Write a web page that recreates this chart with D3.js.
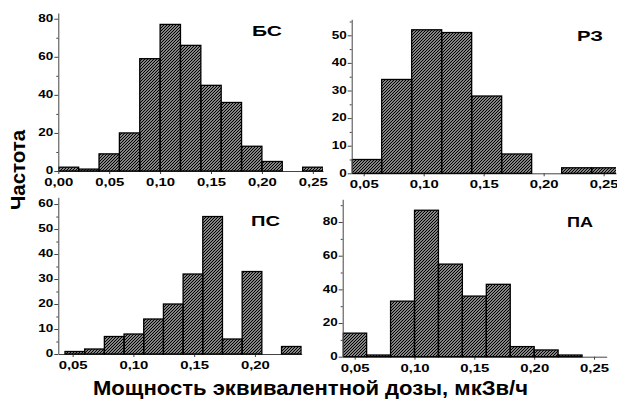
<!DOCTYPE html>
<html>
<head>
<meta charset="utf-8">
<script src="https://cdn.jsdelivr.net/npm/d3@7"></script>
<style>
  body { margin: 0; background: #fff; }
  svg { display: block; font-family: "Liberation Sans", Arial, sans-serif; font-weight: bold; }
</style>
</head>
<body>
<svg id="chart" width="617" height="399"></svg>
<script>
// histogram counts per bin
const bsCounts = [2, 1, 9, 20, 59, 77, 66, 45, 36, 13, 5, 0, 2];
const rzCounts = [5, 34, 52, 51, 28, 7, 0, 2, 2];
const psCounts = [1, 2, 7, 8, 14, 20, 32, 55, 6, 33, 0, 3];
const paCounts = [14, 1, 33, 87, 55, 36, 43, 6, 4, 1];

// bin start and bin width (мкЗв/ч)
const bsBins = [0.00, 0.02];
const rzBins = [0.04, 0.025];
const psBins = [0.0437, 0.0162];
const paBins = [0.04, 0.02];

const bsXTicks = [0, 0.05, 0.10, 0.15, 0.20, 0.25];
const otherXTicks = [0.05, 0.10, 0.15, 0.20, 0.25];
const psXTicks = [0.05, 0.10, 0.15, 0.20];
const bsYTicks = [0, 20, 40, 60, 80];
const rzYTicks = [0, 10, 20, 30, 40, 50];
const psYTicks = [0, 10, 20, 30, 40, 50, 60];
const paYTicks = [0, 20, 40, 60, 80];

const panelNames = ["БС", "РЗ", "ПС", "ПА"];
const yTitle = "Частота";
const xTitle = "Мощность эквивалентной дозы, мкЗв/ч";

const svg = d3.select("#chart");

// hatch fill
const defs = svg.append("defs");
defs.append("pattern")
  .attr("id", "hatch")
  .attr("patternUnits", "userSpaceOnUse")
  .attr("width", 3).attr("height", 3)
  .append("path")
  .attr("d", "M-1,1 l2,-2 M0,3 l3,-3 M2,4 l2,-2")
  .attr("stroke", "#000")
  .attr("stroke-width", 1.4);

const panels = [
  { name: panelNames[0], counts: bsCounts, bins: bsBins, xDomain: [0, 0.26], yMax: 83,
    xRange: [58.3, 323], yRange: [171, 13], xTicks: bsXTicks, yTicks: bsYTicks, yStep: 10,
    title: [282, 36, 30] },
  { name: panelNames[1], counts: rzCounts, bins: rzBins, xDomain: [0.04, 0.2603], yMax: 55.8,
    xRange: [351.7, 616], yRange: [173.3, 19.3], xTicks: otherXTicks, yTicks: rzYTicks, yStep: 5,
    title: [603, 41, 26] },
  { name: panelNames[2], counts: psCounts, bins: psBins, xDomain: [0.0382, 0.2385], yMax: 62.7,
    xRange: [58.3, 301.7], yRange: [354, 197.3], xTicks: psXTicks, yTicks: psYTicks, yStep: 5,
    title: [280, 226, 29] },
  { name: panelNames[3], counts: paCounts, bins: paBins, xDomain: [0.04, 0.2606], yMax: 93.5,
    xRange: [342.7, 606.7], yRange: [356.7, 199.3], xTicks: otherXTicks, yTicks: paYTicks, yStep: 10,
    title: [593, 227, 26] }
];

const fmt = d => d3.format(".2f")(d).replace(".", ",");

panels.forEach(p => {
  const x = d3.scaleLinear().domain(p.xDomain).range(p.xRange);
  const y = d3.scaleLinear().domain([0, p.yMax]).range(p.yRange);
  const g = svg.append("g");

  const clipId = "clip-" + p.name;
  defs.append("clipPath").attr("id", clipId)
    .append("rect")
    .attr("x", p.xRange[0]).attr("y", p.yRange[1] - 2)
    .attr("width", p.xRange[1] - p.xRange[0]).attr("height", p.yRange[0] - p.yRange[1] + 4);

  // x axis
  const xAxis = g.append("g")
    .attr("transform", "translate(0," + p.yRange[0] + ")")
    .call(d3.axisBottom(x).tickValues(p.xTicks).tickFormat(fmt).tickSize(3).tickSizeOuter(0));
  xAxis.select(".domain").attr("stroke", "#444");
  xAxis.selectAll(".tick line").attr("stroke", "#444");
  xAxis.selectAll("text")
    .attr("y", 7).attr("dy", "0.71em")
    .attr("fill", "#000")
    .attr("font-size", 11.5)
    .attr("textLength", 29)
    .attr("lengthAdjust", "spacingAndGlyphs");

  // bars
  g.append("g").attr("clip-path", "url(#" + clipId + ")")
    .selectAll("rect")
    .data(p.counts.map((c, i) => ({ c, x0: p.bins[0] + i * p.bins[1], x1: p.bins[0] + (i + 1) * p.bins[1] }))
      .filter(d => d.c > 0))
    .enter()
    .append("rect")
    .attr("x", d => x(d.x0))
    .attr("y", d => y(d.c))
    .attr("width", d => x(d.x1) - x(d.x0))
    .attr("height", d => y(0) - y(d.c))
    .attr("fill", "url(#hatch)")
    .attr("stroke", "#000")
    .attr("stroke-width", 1.3);

  // y axis with minor ticks
  const minor = d3.range(0, p.yMax, p.yStep).filter(v => !p.yTicks.includes(v));
  g.append("g")
    .attr("transform", "translate(" + p.xRange[0] + ",0)")
    .call(d3.axisLeft(y).tickValues(minor).tickFormat("").tickSize(2).tickSizeOuter(0))
    .call(s => s.select(".domain").remove())
    .selectAll("line").attr("stroke", "#444");
  const yAxis = g.append("g")
    .attr("transform", "translate(" + p.xRange[0] + ",0)")
    .call(d3.axisLeft(y).tickValues(p.yTicks).tickSize(4).tickSizeOuter(0));
  yAxis.select(".domain").attr("stroke", "#444");
  yAxis.selectAll(".tick line").attr("stroke", "#444");
  yAxis.selectAll("text")
    .attr("x", -5)
    .attr("dy", "0.25em")
    .attr("fill", "#000")
    .attr("font-size", 11.5)
    .attr("textLength", d => 7.5 * String(d).length)
    .attr("lengthAdjust", "spacingAndGlyphs");

  // panel label
  g.append("text")
    .attr("x", p.title[0] - p.title[2]).attr("y", p.title[1])
    .attr("font-size", 15.5)
    .attr("textLength", p.title[2])
    .attr("lengthAdjust", "spacingAndGlyphs")
    .text(p.name);
});

svg.append("text")
  .attr("transform", "translate(25,170) rotate(-90)")
  .attr("text-anchor", "middle")
  .attr("font-size", 20)
  .attr("textLength", 80)
  .attr("lengthAdjust", "spacingAndGlyphs")
  .text(yTitle);

svg.append("text")
  .attr("x", 93).attr("y", 395)
  .attr("font-size", 19.5)
  .attr("textLength", 435)
  .attr("lengthAdjust", "spacingAndGlyphs")
  .text(xTitle);
</script>
</body>
</html>
